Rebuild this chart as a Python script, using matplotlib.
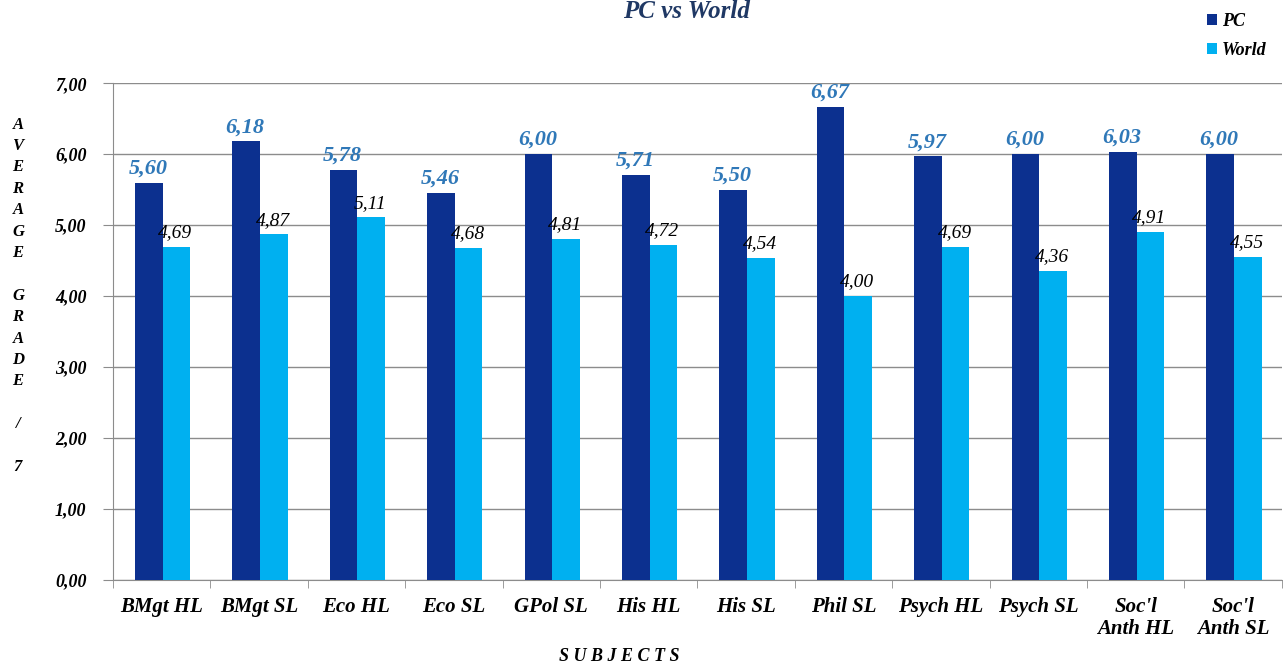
import matplotlib.pyplot as plt
import numpy as np

subjects = ["BMgt HL", "BMgt SL", "Eco HL", "Eco SL", "GPol SL", "His HL", "His SL",
            "Phil SL", "Psych HL", "Psych SL", "Soc'l\nAnth HL", "Soc'l\nAnth SL"]
pc = [5.60, 6.18, 5.78, 5.46, 6.00, 5.71, 5.50, 6.67, 5.97, 6.00, 6.03, 6.00]
world = [4.69, 4.87, 5.11, 4.68, 4.81, 4.72, 4.54, 4.00, 4.69, 4.36, 4.91, 4.55]

pc_color = '#0c308f'
world_color = '#00b0f0'
font = 'Liberation Serif'

plt.rcParams['font.family'] = font

fig = plt.figure(figsize=(12.83, 6.66), dpi=100)
ax = fig.add_axes([0.088, 0.129, 0.911, 0.746])

x = np.arange(len(subjects))
w = 0.283
b1 = ax.bar(x - w / 2 + 0.01, pc, w, color=pc_color, label='PC', zorder=3)
b2 = ax.bar(x + w / 2 + 0.01, world, w, color=world_color, label='World', zorder=3)

def fmt(v):
    return f"{v:.2f}".replace('.', ',')

for xi, v in zip(x, pc):
    ax.text(xi - w / 2, v + 0.06, fmt(v), ha='center', va='bottom', color='#2f78b8',
            fontsize=16, fontweight='bold', style='italic')
for xi, v in zip(x, world):
    ax.text(xi + w / 2, v + 0.08, fmt(v), ha='center', va='bottom', color='black',
            fontsize=14, style='italic')

ax.set_ylim(0, 7)
ax.set_xlim(-0.5, len(subjects) - 0.5)
ax.set_yticks(range(0, 8))
ax.set_yticklabels([fmt(v) for v in range(0, 8)], fontsize=13, fontweight='bold', style='italic')
ax.yaxis.grid(True, color='#8c8c8c', linewidth=1, zorder=0)
ax.set_axisbelow(True)

ax.set_xticks(x)
ax.set_xticklabels(subjects, fontsize=15, fontweight='bold', style='italic', linespacing=1.15)
ax.set_xticks(np.arange(-0.5, len(subjects)), minor=True)
ax.tick_params(axis='x', which='major', length=0, pad=12)
ax.tick_params(axis='x', which='minor', length=6, color='#8c8c8c')
ax.tick_params(axis='y', length=7, color='#8c8c8c', pad=12)

for s in ['top', 'right']:
    ax.spines[s].set_visible(False)
for s in ['left', 'bottom']:
    ax.spines[s].set_color('#8c8c8c')

fig.text(0.535, 1 - 18 / 666, 'PC vs World', ha='center', va='baseline', fontsize=18,
         fontweight='bold', style='italic', color='#1f3864')

ylab = "A\nV\nE\nR\nA\nG\nE\n\nG\nR\nA\nD\nE\n\n/\n\n7"
fig.text(0.014, 0.556, ylab, ha='center', va='center', fontsize=12, fontweight='bold',
         style='italic', linespacing=1.45)
fig.text(0.483, 0.014, 'S U B J E C T S', ha='center', va='center', fontsize=13,
         fontweight='bold', style='italic')

fig.legend(handles=[b1, b2], loc='upper left', bbox_to_anchor=(0.928, 1.005), frameon=False,
           prop={'family': font, 'weight': 'bold', 'style': 'italic', 'size': 13},
           handlelength=0.55, handleheight=0.55, handletextpad=0.3, labelspacing=0.65)

fig.savefig('out.png', dpi=100)
